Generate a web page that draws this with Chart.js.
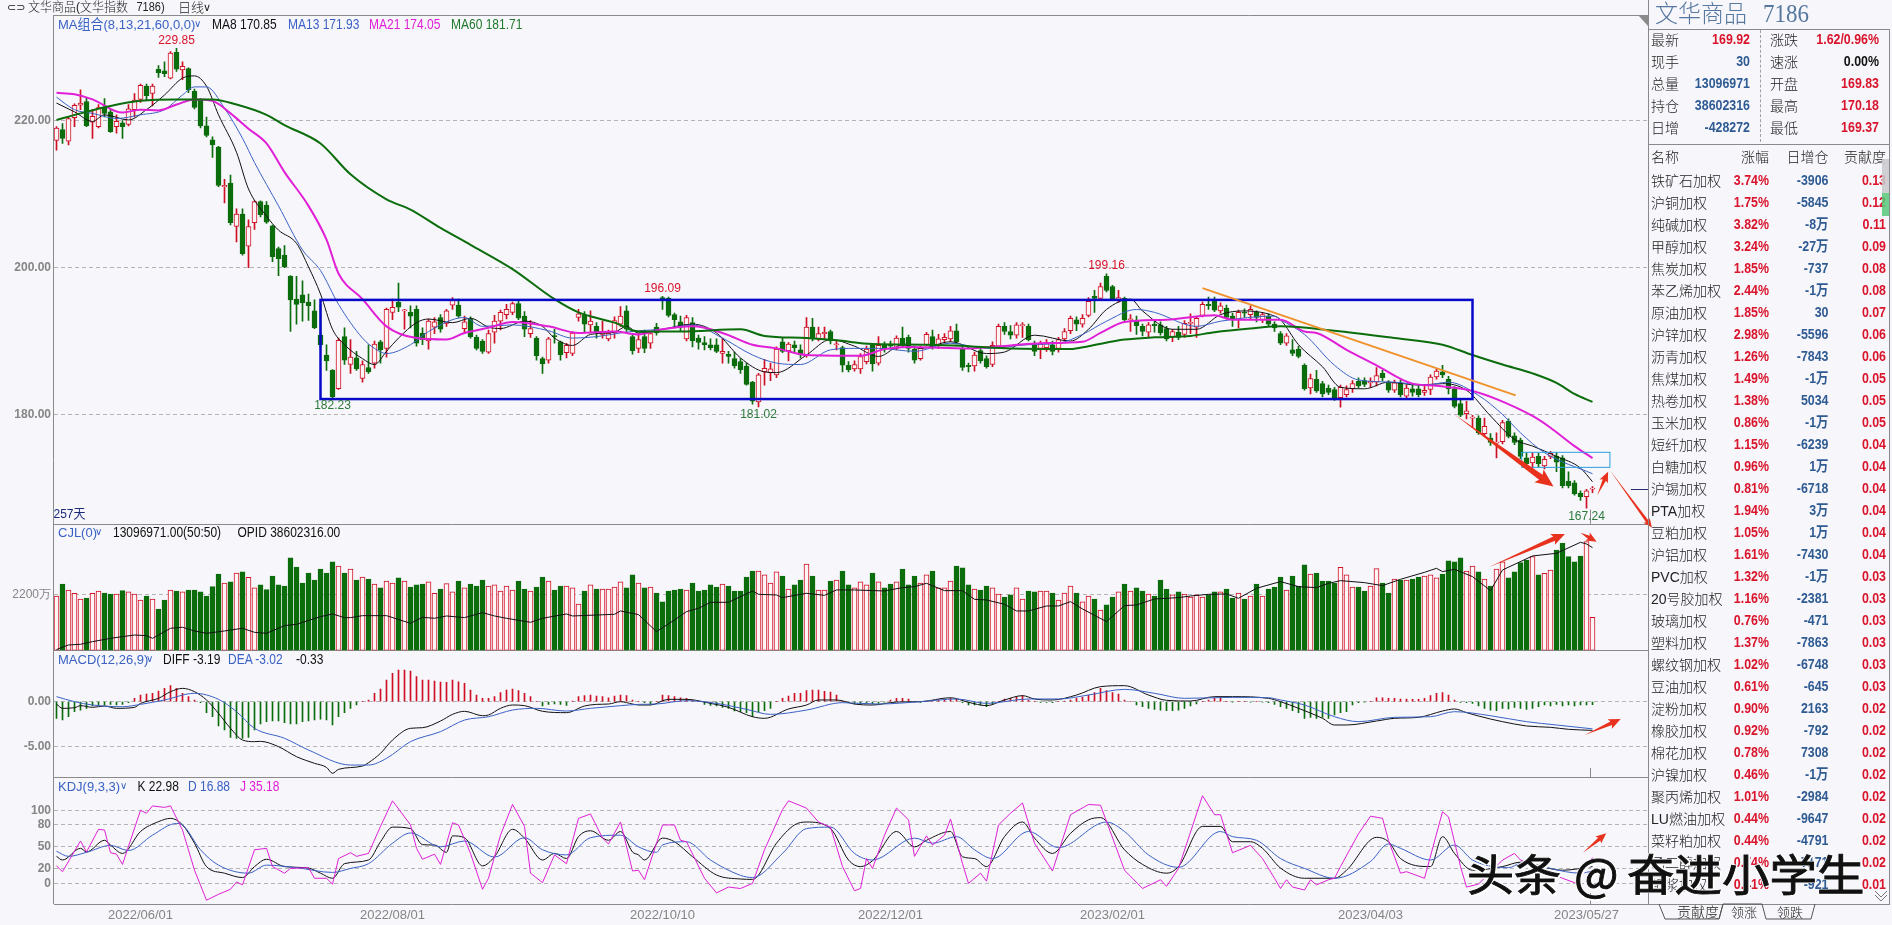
<!DOCTYPE html>
<html>
<head>
<meta charset="utf-8">
<title>文华商品</title>
<script src="https://cdn.jsdelivr.net/npm/chart.js@4/dist/chart.umd.min.js"></script>
<style>
html,body{margin:0;padding:0;background:#f6f6fb;overflow:hidden;}
#wrap{position:relative;width:1892px;height:925px;overflow:hidden;font-family:"Liberation Sans","Noto Sans CJK SC",sans-serif;}
canvas{position:absolute;left:0;top:0;}
.t{position:absolute;white-space:pre;line-height:1;}
.line{position:absolute;background:#8a8a8a;}
</style>
</head>
<body>
<div id="wrap"><canvas id="c" width="1892" height="925"></canvas><div id="overlay"></div></div>
<script>
const opens=[
217.3,218.8,217.2,220.4,222.1,222.6,219.8,219.2,221.7,221.2,
219.2,219.7,219.5,221.5,222.9,224.7,223.7,227,226.8,225.8,
229.3,226.9,227.1,224,222.9,219.3,217.4,216.4,211,211.5,
205.6,207.3,202.9,206.1,209,208.5,205.7,202.6,201.7,198.8,
195.7,196.3,195.3,194.1,190.8,188.1,186,183.5,190.6,186.8,
187.7,184.9,186.4,187,189.9,189,193.9,195.3,194.1,193.9,
194.3,191.1,190,191.9,193.2,192.4,194.9,194.9,191.7,193,
190.5,190,188.5,191.2,192.7,193.6,193.9,195.1,193.4,191,
190.4,187.6,187.4,190.7,189.9,188.4,188.3,193.2,193.5,192.2,
192,190.9,190.3,191.1,192.3,194.1,190.6,189,190.6,189.7,
191.9,195.9,195.8,193.6,192.6,190.3,192.5,190.4,189.8,189.5,
189.5,188.3,188.2,187.6,187.2,186.6,184.4,181.7,185.8,185.7,
185.4,189.9,188.7,189.5,188.8,188,191.9,190.3,191,191.3,
189.5,189.1,186.7,186.2,186.2,187.2,189.4,187,189.4,189.6,
189,190.4,190.5,188.9,187.6,189.5,190.6,189.5,190.2,190.3,
191.4,189,186.7,186.6,188.7,187.6,186.8,189.3,192,191.3,
190.8,192.1,192,189.4,189,189.1,189.5,189,190.3,191.4,
192.9,192.3,193.5,196.1,195.8,198.8,197.4,195.6,195.8,192.9,
192.7,192,191.2,192.3,192.2,191.7,190.6,191.2,190.9,192.4,
191.9,193.5,195,195.4,194.1,194.5,193.4,192.9,193.9,193.6,
193.9,192.9,193.4,192.3,191,189.7,188.8,188.9,186.7,183.6,
184.8,184.2,183.6,183.4,182.3,182.7,183.5,184.5,184.6,184.3,
184.4,185.6,184.3,183.3,184.3,182.5,183.5,183.5,183,183.4,
185.1,185.8,184.8,183.5,181.5,180.1,179.5,179.5,177.4,176.8,
176.1,176.3,179.1,177.1,176.5,174.1,173.4,174.3,173,174.3,
174.3,174.1,170.9,170.7,169.3,168.8,169.83];
const closes=[
219,217.6,220.3,222.1,222.4,219.3,220.6,221.8,221,218.5,
219.9,219.2,221.6,222.8,224.8,223.4,224.7,226.5,226.4,229.2,
227,227.4,224.2,221.8,219.3,218,216.7,211.2,211.2,206.1,
207.3,201.9,205.6,209,207.2,206.2,201.5,201.2,200.1,195.6,
195,195.2,194.8,191.8,189.5,187.3,182.4,190.1,187.4,187.8,
186.2,186.8,185.8,189.6,188.8,194.3,194.6,194.6,194.2,193.4,
189.7,190.2,192.7,192.6,191.6,194.1,195.6,193.4,192.6,190.6,
189,188.6,191,192.7,193.9,194.3,195.1,193.1,191.6,191.7,
188,186.9,190.3,190.6,188.1,189.4,191.1,193.7,192.3,192.7,
191.1,191.3,191.1,192.8,193.4,191.6,188.7,190.2,189,191,
191.1,195.5,193.5,192.9,191.9,193.2,190,189.8,189.5,189.1,
188.6,188.6,187.9,186.6,186.1,184.1,181.8,185.4,186.3,186.2,
188.9,188.6,189.6,189.1,188.1,191.9,190.3,191,191.2,190,
189.6,186.7,186.1,186.8,187.9,188.9,186.9,189.4,188.9,189.3,
190.4,189.4,189,187.4,189,190.9,189.3,190.3,190.5,191.4,
189.9,186.4,186.5,188.1,187.3,186.5,189.4,192,191.3,190.8,
192.2,192.2,190.2,188.6,189.6,189.8,188.6,190.2,191.3,193.1,
192.3,193.1,195.4,195.8,197.4,196.9,195.7,195.9,192.9,193,
192.1,191.3,192.2,192.1,191.1,190.3,191.3,190.5,192.4,192.5,
193.1,195,194.8,194.2,194.8,193.2,192.9,193.9,193.8,194.3,
193.2,193.6,192.3,191.8,189.7,190.7,188.3,187.9,183.5,184.9,
183.2,182.8,183,182.1,183.7,183.4,184.2,183.9,184.1,184.5,
185.3,185,183.3,184.3,182.7,183.6,183,182.7,183.3,185.1,
185.9,185.4,183.5,181.1,179.9,180.5,179.6,177.5,178.4,176.2,
176.2,178.9,177,176.2,174.3,173.3,174.2,173.3,173.9,174.7,
173.5,170.3,170.3,169.2,168.8,169.6,169.92];
const highs=[
219.2,219.6,220.5,222.3,224.2,223.1,221.5,222.2,223,221.5,
220.8,220,222.2,223.7,225,225,225,227.5,228,229.4,
229.85,228,227.2,224.3,223,220.5,217.8,216.5,212,212.6,
208,208,206.5,209.1,209.1,209,205.8,202.8,203,198.9,
198.8,198.2,196.4,195.6,195,189.5,186.1,190.4,191.8,190.2,
188.6,187.3,189.5,190,190.1,194.5,195.7,197.9,194.3,194.8,
194.8,191.8,193,193.2,193.6,194.3,195.9,195.7,193.4,193.3,
190.8,190.2,191.5,193.5,194.2,195,195.3,195.6,194,192.8,
190.6,187.8,190.5,191.6,190,189.7,191.3,194.3,194,194.1,
192.5,192.7,191.5,193.3,194.7,194.8,191,191,191.5,191.2,
192.4,196.09,196,193.8,193.4,193.5,193.2,190.8,190.6,190.3,
190.3,190.4,188.6,188.5,187.6,187,184.5,185.6,187.5,187,
189.2,190.4,189.8,190,189.5,193.2,193.1,191.9,191.9,191.5,
190,189.3,187.2,187.3,188.3,189.3,189.6,190.6,189.9,190,
190.7,191.9,190.8,189.3,189.3,191.2,191.5,190.9,191,192,
192.3,189.5,187,188.5,189,188,189.9,192.3,192.5,192.1,
192.5,192.5,192.3,190,190,190.2,190,190.5,191.7,193.4,
193.3,193.6,195.9,196.9,197.9,199.16,197.6,196.9,196,193.6,
193.4,192.3,192.5,192.8,192.6,192,191.6,192,192.8,193.7,
193.3,195.3,196,196,195.2,194.9,193.8,194.2,194.4,194.8,
194.1,193.9,193.7,192.6,191.3,191,190.2,189.3,186.9,185.5,
186,184.5,184,183.7,184,183.9,184.6,185,185,185,
186.4,186,184.6,184.7,184.7,184,184,183.9,184,185.4,
186.2,186.7,185.2,183.8,182,181.8,179.9,179.8,179.5,177.4,
177.5,179.2,179.4,177.5,176.8,174.8,174.8,174.7,174.3,175,
174.8,174.4,172.2,171,169.6,169.8,170.18];
const lows=[
216,216.9,216.7,219.2,221.5,219.2,217.6,219,220.5,218.4,
218.3,217.6,219.3,220.5,222.5,222.8,222,225.9,226,225.7,
226.7,225.6,223.8,221.6,219,217.8,215,211,208.8,205.8,
203.5,201.7,200,205.2,206.9,206,200.8,198.9,200,191.3,
192.3,192.7,192.8,191.7,189,186,182.23,183.4,186.8,185.6,
186,184.4,185.6,186.3,187,187.8,192.9,194,191.6,191.8,
189.3,189.5,188.9,191,191.2,192,194.3,193.2,191,190.4,
188.8,188.3,188.3,189.7,191.5,193,193.6,192.9,190.6,190.5,
187.4,185.6,187,189.7,187.4,187.7,188,192.7,191.2,191.1,
190.4,190.4,190,190.4,192,191.3,188.2,188.4,188.4,189,
190.8,194.3,193.3,191.8,191.4,190,189.2,188.9,188.8,188.8,
188.4,187,187,186.3,185.6,184,181.4,181.02,184,184.6,
185,188.4,187.3,188.5,187.7,187.8,190,190,190.2,189.6,
188.8,185.8,185.8,185.9,185.6,186.9,185.9,186.7,188.5,189,
188.8,189.2,188.5,187,187.4,189.3,188.9,189,189.7,189.9,
189.6,186,185.8,185.9,187,186.3,186.5,189,190.9,190.3,
190.4,190.5,190,188,187.6,188.6,188.1,188.5,190,191,
191.4,191.9,193.3,193.9,195.6,196.7,195.5,195.3,192.7,191.3,
190.9,190.7,190.6,191.2,190.8,190,189.9,190.2,190.5,191,
190.5,193.3,194.3,194,193.8,193,192,191.8,193.2,193,
192.6,192.5,192,191.3,189.5,189.4,188,187.7,183.3,182.8,
183,182.4,182.7,181.9,181,182.4,183,183.6,183.8,183.7,
183.9,184.6,183,183,182.4,182.2,182.5,182.4,182.6,182.7,
184.8,185,182.8,180.9,179.7,179.4,178.2,177.3,177,175.8,
174.1,176,176.8,175.9,174,172.9,172.7,172.9,172.6,174,
172.2,170,170,169,168.3,167.24,169.37];
const volumes=[
2135,2607,2371,2240,2017,2057,2240,2332,2253,2214,
2214,2345,2293,2214,1978,2135,2017,1624,1978,2371,
2332,2293,2371,2371,2293,2135,2502,3000,2646,2686,
3039,3079,2869,2450,2568,2384,2921,2568,2528,3629,
3275,2646,3039,2764,3196,3039,3472,3314,3039,3196,
2764,2882,2803,2607,2450,2725,2646,2843,2725,2489,
2568,2607,2686,2240,2410,2620,2293,2725,2450,2607,
2528,2764,2528,2568,2332,2528,2371,2725,2410,2332,
2489,2882,2725,2371,2528,2528,2450,1821,2332,2568,
2410,2410,2410,2489,2686,2450,2961,2646,2450,2489,
2253,1900,2332,2371,2410,2371,2646,2332,2371,2568,
2489,2607,2528,2332,2332,2882,3118,3118,2961,2646,
3079,2921,2410,2568,2764,3393,2921,2371,2371,2725,
2764,3118,2568,2450,2686,2568,3039,2686,2450,2607,
2686,3196,2568,2921,2646,2961,3118,2450,2450,2725,
3314,3236,2568,2410,2371,2528,2450,2214,2096,2175,
2450,2017,2332,2293,2332,2332,2253,1978,2253,2528,
2253,1900,2135,2017,1585,1782,2096,2293,2607,2332,
2450,2332,2214,2135,2764,2410,2175,2293,2214,2096,
2175,2096,2175,2293,2293,2410,2057,2253,2017,2135,
2607,2135,2410,2489,2882,2371,2921,2528,3354,3000,
3039,2725,2725,2646,3262,2961,2489,2489,2332,2528,
3210,2646,2253,2803,2764,2764,2803,2882,2921,2961,
2843,3000,3511,3472,3629,3118,3314,3079,2803,2528,
3196,3472,2843,3079,3445,3550,3681,2961,3026,3157,
3943,4205,3681,3472,3707,4271,1297];
const macdHist=[
-1.85,-2.04,-1.67,-1.11,-.93,-.74,-.48,-.37,-.37,-.3,
-.37,-.3,-.11,.37,.74,.85,.93,1.19,1.48,1.78,
1.48,.93,.56,.19,-.11,-1.22,-1.67,-2.7,-3.15,-3.96,
-4.07,-4.07,-3.96,-3.15,-2.48,-2.22,-2.15,-2.15,-2.33,-2.48,
-2.48,-2.22,-2.15,-2.04,-1.93,-2.04,-2.59,-1.67,-1.22,-.74,
-.37,0,.19,.93,1.41,2.41,3.15,3.52,3.52,3.41,
2.78,2.41,2.41,2.3,2.19,2.15,2.41,2.22,2.04,1.3,
.74,.37,.37,.56,1,1.3,1.41,1.22,.93,.56,
0,-.48,-.3,-.26,-.3,-.41,.04,.56,.67,.74,
.63,.56,.44,.63,.74,.67,.19,0,-.11,-.3,
0,.74,.67,.56,.44,.37,.19,0,-.3,-.41,
-.48,-.63,-.74,-1.04,-1.11,-1.22,-1.67,-1.11,-1,-.74,
0,.37,.63,.93,.93,1.22,1.3,1.3,1.15,1.07,
.74,0,-.11,-.26,-.19,-.11,-.26,-.19,-.04,.19,
.37,.37,.3,0,-.07,0,.07,.19,.26,.37,
.26,-.11,-.37,-.37,-.37,-.56,-.26,0,.3,.37,
.48,.67,.19,0,-.07,-.07,-.11,0,.07,.19,
.37,.48,.74,1,1.48,1.22,1,.85,.19,0,
-.37,-.56,-.74,-.85,-.93,-1,-1,-.93,-.74,-.48,
-.26,0,.19,.37,.48,0,-.04,0,0,-.04,
0,-.04,-.11,-.3,-.56,-.74,-1,-1.22,-1.85,-1.74,
-1.85,-1.74,-1.85,-1.48,-1.22,-1.11,-.37,-.11,-.04,0,
.44,.44,.37,.37,.3,.3,.26,.26,.37,.67,
.93,1,.74,.19,-.07,-.11,-.19,-.48,-.74,-.93,
-1,-.74,-.81,-.63,-.74,-.85,-.74,-.56,-.37,-.48,
-.3,-.48,-.37,-.48,-.37,-.37,-.33];

// moving averages and indicator lines, [day, value]
const ma8=[[0,222.4],[3,221.2],[6,219.9],[8,220.8],[12,220.1],[15,221.5],[18,223.5],[21,225.8],[23,226.1],[25,224.7],[27,220.8],[30,215.7],[32,210.7],[35,207],[37,205.1],[40,203.3],[42,200.1],[44,196.4],[46,191.6],[48,189.5],[51,187.6],[53,186.8],[55,188.6],[57,190.4],[60,192.5],[62,193],[66,192.5],[69,193.1],[72,191.9],[74,191.7],[78,192.7],[81,192],[83,190.4],[86,189.4],[89,190.9],[93,191.2],[95,192],[97,191.1],[101,191.6],[106,192.3],[110,191.1],[114,187.7],[118,185.8],[120,185.7],[125,188.1],[129,190.2],[133,189.3],[137,187.9],[141,189.5],[144,189],[149,189.9],[155,188.3],[158,188.5],[163,190.8],[169,190],[172,191.6],[175,194.3],[179,195.7],[181,194.1],[186,191.6],[190,191.6],[194,193.6],[198,194.1],[203,193.4],[204,192.9],[207,189.5],[211,186.5],[214,183.7],[218,183.5],[222,184.4],[227,184],[231,184.2],[235,183.3],[239,179.8],[243,176.6],[246,175.7],[250,174.3],[254,172.7],[256,170.85]];
const ma13=[[0,223.2],[3,221.5],[6,221],[10,220.3],[14,220.8],[18,221.5],[21,223.5],[23,224.6],[25,224.6],[28,221.7],[31,217.6],[33,214.3],[37,208.4],[41,202.4],[44,199.6],[47,195],[51,190.4],[53,189],[55,188.3],[59,189.5],[62,191.3],[68,193.2],[71,192],[76,192.2],[82,191.4],[86,190.4],[90,190.6],[94,191.1],[97,191.4],[101,191.6],[106,192.2],[111,190.4],[116,188.1],[120,187],[124,186.8],[129,188.8],[133,189],[137,189],[143,188.6],[149,189.7],[155,189],[162,189.5],[167,189.7],[171,190.9],[175,192.7],[180,194.3],[183,193.9],[190,192],[194,192.7],[203,193.4],[204,192.9],[208,190.9],[213,186.7],[217,184.7],[223,184.4],[228,184],[232,184.4],[237,182.6],[241,180],[244,177.5],[248,174.8],[256,171.93]];
const ma21=[[0,223.8],[3,223.6],[6,222.9],[11,221.1],[14,221.5],[17,221.4],[20,222.2],[23,222.9],[26,222.7],[29,221],[32,218.9],[35,216.9],[38,213],[42,208.4],[45,203.8],[47,199.2],[51,195.7],[55,192],[60,190.4],[65,190.2],[68,191.1],[72,191.8],[76,192.6],[82,192],[87,191.1],[93,191.3],[97,190.9],[101,191.6],[106,192],[111,191.1],[116,189.5],[120,189],[125,188.1],[134,188],[138,188.9],[142,189.2],[152,189],[159,189.4],[164,189.7],[171,189.9],[174,191.1],[178,192.6],[185,192.9],[193,193.5],[196,192.9],[204,192.9],[208,191.3],[210,191.1],[215,188.8],[220,186.7],[226,184.2],[230,183.9],[236,183.2],[240,182.1],[246,179.8],[249,178.2],[253,175.7],[256,174.05]];
const ma60=[[0,220.1],[4,221],[9,222],[14,222.7],[20,222.9],[26,222.9],[30,222.2],[35,220.8],[38,219.4],[44,216.9],[49,212.7],[55,209.3],[59,207.9],[64,205.4],[69,203.1],[76,199.8],[83,195.7],[87,193.9],[93,192.5],[97,191.3],[104,191.3],[114,191.6],[118,190.7],[125,190.4],[130,190.1],[136,189.6],[145,189.5],[152,189.3],[159,189],[169,188.9],[172,189.3],[178,190.2],[183,190.5],[189,190.7],[193,191.2],[199,191.7],[204,192],[213,191.4],[223,190.4],[231,189.5],[236,188.1],[241,186.8],[246,185.6],[250,184.3],[253,182.8],[256,181.71]];
const opid=[[0,30],[2,210],[4,236],[6,340],[9,470],[11,537],[13,600],[15,577],[16,470],[19,865],[21,905],[23,760],[25,668],[28,760],[31,865],[33,707],[35,668],[38,970],[40,1022],[44,1323],[46,1428],[48,1284],[49,1284],[51,1362],[55,1362],[59,1061],[61,1297],[63,1258],[65,1349],[68,1284],[71,1480],[73,1349],[75,1258],[79,1100],[81,1258],[85,1428],[86,1349],[93,1415],[94,1546],[97,1402],[100,734],[103,1192],[105,1520],[107,1650],[109,1886],[112,1886],[116,2332],[117,2200],[120,2175],[121,2070],[125,2240],[128,2160],[130,2371],[133,2371],[138,2332],[141,2463],[143,2502],[145,2633],[148,2345],[151,2345],[153,2004],[155,1978],[158,1808],[160,1546],[162,1546],[165,1742],[167,1742],[169,1913],[171,1624],[175,1127],[178,1755],[180,1782],[183,2017],[187,2070],[189,2135],[192,2200],[195,2214],[197,2043],[200,2437],[204,2700],[207,2502],[210,2463],[212,2633],[214,2738],[218,2659],[221,2541],[224,2790],[228,3065],[230,3222],[231,3092],[233,3183],[236,2895],[239,2345],[241,3157],[246,3707],[250,3812],[254,4244],[255,4179],[256,4035]];
const diff=[[0,-.26],[1,-.74],[3,-.67],[4,-.44],[6,-.63],[8,-.48],[10,-.74],[13,-.63],[14,-.19],[17,.37],[19,1.11],[21,1.48],[23,1.11],[25,.19],[27,-1.3],[29,-2.96],[31,-4.26],[33,-4.44],[34,-4.41],[37,-5],[40,-6.11],[43,-6.85],[45,-7.3],[46,-7.96],[47,-7.52],[51,-7.15],[52,-6.78],[54,-5.74],[56,-4.26],[59,-2.96],[61,-2.89],[64,-2.15],[66,-1.41],[68,-1.07],[71,-1.56],[72,-1.48],[74,-.74],[76,-.37],[78,-.44],[81,-1.07],[85,-1.22],[88,-.48],[90,-.3],[92,-.26],[94,0],[96,-.26],[97,-.37],[99,-.37],[102,.26],[105,.26],[109,-.19],[112,-.63],[116,-1.67],[118,-1.85],[122,-.81],[125,-.37],[127,.19],[130,.19],[133,-.26],[136,-.37],[140,-.04],[144,0],[149,.44],[152,-.07],[155,-.44],[158,.19],[161,.67],[163,.3],[166,.19],[170,.74],[174,1.67],[178,1.78],[182,.74],[185,.15],[189,.07],[193,.56],[196,.56],[202,.37],[204,0],[207,-.74],[211,-1.85],[213,-2.59],[215,-2.59],[220,-2.15],[223,-1.85],[227,-1.74],[231,-1.04],[233,-.81],[235,-1.22],[239,-1.93],[241,-2.22],[245,-2.7],[249,-2.85],[252,-3.07],[256,-3.19]];
const dea=[[0,.56],[3,0],[6,-.37],[11,-.56],[14,-.3],[18,.19],[23,.93],[27,.26],[30,-1.11],[33,-2.96],[38,-4.07],[42,-5.37],[49,-7.04],[52,-7.04],[55,-6.3],[59,-4.44],[64,-3.33],[68,-2.04],[72,-1.67],[76,-.93],[80,-.74],[85,-1.04],[89,-.74],[94,-.44],[97,-.3],[100,-.26],[105,.11],[110,-.19],[115,-.85],[119,-1.41],[125,-.93],[131,-.11],[137,-.26],[144,0],[150,.3],[155,-.19],[162,.3],[167,.3],[172,.74],[178,1.37],[183,.93],[188,.37],[196,.48],[202,.44],[204,.19],[208,-.37],[213,-1.67],[217,-2.22],[223,-1.74],[229,-1.67],[233,-1.11],[239,-1.56],[245,-2.22],[250,-2.59],[256,-3.02]];
const kdjK=[[0,37],[1,32],[4,48],[5,43],[8,59],[9,52.5],[11,41],[14,71],[17,84.5],[19,89],[21,80],[23,55],[25,23],[28,14],[31,8],[33,23],[35,33],[38,23],[42,21],[44,14],[46,7],[48,27],[52,32],[54,57],[56,77],[59,75],[61,53],[63,52.5],[65,42.5],[66,65],[68,62.5],[71,24],[73,36.5],[76,74],[78,62],[81,32],[83,41],[85,34],[87,64],[89,72],[92,59],[94,71],[96,43],[97,39],[98,32],[101,62],[103,57],[106,36.5],[110,11.5],[114,6],[116,5.5],[120,55],[123,80],[125,84],[129,75],[132,32],[134,23],[136,31],[140,71],[143,50],[145,59],[149,71],[151,36.5],[153,34],[155,23],[158,64],[161,84],[163,62],[166,41],[169,68.5],[172,87],[174,90],[178,46],[181,26],[185,14],[187,23],[191,78],[194,78],[196,57],[199,57],[201,48],[204,21],[208,7],[213,7],[215,18],[220,63],[222,57],[224,34],[229,23],[231,64],[233,41],[236,18],[241,23],[244,29],[251,18],[256,22.98]];
const kdjD=[[0,44],[2,37],[5,42.5],[9,52],[12,45],[16,66],[20,82],[21,80],[24,46],[27,25],[32,14],[35,25],[40,21.5],[46,15],[49,20.5],[52,27],[56,55],[59,69],[64,50],[68,58],[73,36],[78,62.5],[81,46],[85,39],[89,62.5],[94,66],[97,50],[100,42.5],[101,52.5],[105,57],[109,32],[114,11],[116,8],[121,41],[125,75],[129,77],[133,41],[136,32],[143,62],[146,55],[150,64],[153,46],[156,34],[162,71],[167,49],[175,84],[178,71],[182,39],[187,22],[194,71],[196,64],[200,59],[204,34],[208,20.5],[213,7],[219,30],[222,54],[224,48],[229,32],[233,52.5],[236,32],[242,21.5],[244,27],[254,14],[256,16.88]];
const kdjJ=[[0,24],[1,16],[4,58],[5,43],[7,74],[8,73],[9,42],[10,40],[11,26],[14,100],[15,96],[16,106],[18,104],[19,106],[21,73],[23,18],[25,-23],[27,-15],[29,-8],[30,2],[31,-2],[33,46],[35,48],[36,23],[38,14],[39,20.5],[42,21.5],[43,7],[45,7],[46,-1],[47,34],[49,42],[50,37],[52,41],[54,78],[56,113],[59,80],[60,48],[61,33],[63,40],[64,26],[66,83],[67,80],[69,41],[71,-8],[72,7],[74,66],[76,108],[78,78],[79,14],[81,1],[83,39],[85,27],[87,89],[89,95],[91,62],[92,54],[94,84],[96,17],[97,18],[98,5],[101,80],[103,80],[104,59],[105,57],[108,7],[110,-13],[112,-5],[114,-7],[116,0],[118,46],[121,101],[122,113],[125,103],[127,84],[129,77],[131,23],[133,-10],[134,-7],[135,34],[136,20.5],[138,66],[140,103],[142,87],[143,37],[145,65],[146,52.5],[148,66],[149,88],[151,27],[152,0],[154,14],[155,3],[157,80],[159,96],[161,110],[163,55],[166,17],[169,94],[172,108],[174,107],[178,18],[181,-7],[184,5],[185,-4],[187,20.5],[191,120],[193,94],[194,94],[196,42],[199,52],[201,34],[203,7],[204,-7],[205,5],[206,-5],[208,-9],[209,5],[210,-2],[212,5],[213,7],[214,23],[217,68],[219,92],[221,89],[222,59],[224,14],[225,16],[228,7],[231,98],[232,91],[234,23],[235,-5],[237,-1],[241,32],[243,41],[244,32],[251,7],[253,1],[254,7],[256,35.18]];

// axis ticks
const priceTicks=[180,200,220];
const volumeTicks=[2200];
const macdTicks=[-5,0];
const kdjTicks=[0,20,50,80,100];
const dateDays=[14,56,101,139,176,219,255];
const dateLabels=['2022/06/01','2022/08/01','2022/10/10','2022/12/01','2023/02/01','2023/04/03','2023/05/27'];

// high/low notes on the candles
const noteDays=[20,46,101,117,175,255];
const notePrices=[229.85,182.23,196.09,181.02,199.16,167.24];
const noteUp=[true,false,true,false,true,false];

// hand drawn marks from the screenshot, in chart units
const boxes=[
  {from:[44,195.6],to:[236,182.1],color:'#0808c8',width:2.5},
  {from:[244.2,174.85],to:[258.9,172.8],color:'#2a9fe0',width:1}
];
const trendLine={from:[191,197.2],to:[243.2,182.6]};
const arrows=[
  {axis:'yMain',from:[232.9,180.05],to:[249.5,170.2],w:6},
  {axis:'yMain',from:[256.8,169],to:[258.6,172.2],w:3.5},
  {axis:'yMain',from:[258.9,172.4],to:[265.9,164.6],w:3},
  {axis:'yVol',from:[238.7,3262],to:[251.4,4572],w:4.5},
  {axis:'yVol',from:[254,4624],to:[256.7,4270],w:3.5},
  {axis:'yMacd',from:[254.7,-3.7],to:[260.7,-1.93],w:4},
  {axis:'yKdj',from:[254.4,42],to:[258.3,68.5],w:3.5}
];

// quote panel
const statLeftNames=['最新','现手','总量','持仓','日增'];
const statLeftValues=['169.92','30','13096971','38602316','-428272'];
const statLeftColors=['#d9142b','#2f5b93','#2f5b93','#2f5b93','#2f5b93'];
const statRightNames=['涨跌','速涨','开盘','最高','最低'];
const statRightValues=['1.62/0.96%','0.00%','169.83','170.18','169.37'];
const statRightColors=['#d9142b','#111','#d9142b','#d9142b','#d9142b'];

const rowNames=['铁矿石加权','沪铜加权','纯碱加权','甲醇加权','焦炭加权','苯乙烯加权','原油加权','沪锌加权','沥青加权','焦煤加权','热卷加权','玉米加权','短纤加权','白糖加权','沪锡加权','PTA加权','豆粕加权','沪铝加权','PVC加权','20号胶加权','玻璃加权','塑料加权','螺纹钢加权','豆油加权','淀粉加权','橡胶加权','棉花加权','沪镍加权','聚丙烯加权','LU燃油加权','菜籽粕加权','乙二醇加权','纸浆加权'];
const rowChanges=['3.74%','1.75%','3.82%','3.24%','1.85%','2.44%','1.85%','2.98%','1.26%','1.49%','1.38%','0.86%','1.15%','0.96%','0.81%','1.94%','1.05%','1.61%','1.32%','1.16%','0.76%','1.37%','1.02%','0.61%','0.90%','0.92%','0.78%','0.46%','1.01%','0.44%','0.44%','0.74%','0.41%'];
const rowOpenInt=['-3906','-5845','-8万','-27万','-737','-1万','30','-5596','-7843','-1万','5034','-1万','-6239','1万','-6718','3万','1万','-7430','-1万','-2381','-471','-7863','-6748','-645','2163','-792','7308','-1万','-2984','-9647','-4791','-7171','-921'];
const rowContrib=['0.13','0.12','0.11','0.09','0.08','0.08','0.07','0.06','0.06','0.05','0.05','0.05','0.04','0.04','0.04','0.04','0.04','0.04','0.03','0.03','0.03','0.03','0.03','0.03','0.02','0.02','0.02','0.02','0.02','0.02','0.02','0.02','0.01'];

const RED='#cf0f24', GREEN='#0b6d0b', HOLLOW='#fff5f6', BLUE='#3a62c4', MAGENTA='#e01fd6';
const days=opens.map((_,i)=>i);
const isUp=i=>closes[i]>=opens[i];
const pts=a=>a.map(([x,y])=>({x,y}));
const upColors=days.map(i=>isUp(i)?RED:GREEN);
const fills=days.map(i=>isUp(i)?HOLLOW:GREEN);

const lineSet=(data,axis,color,width,smooth)=>({
  type:'line',data:pts(data),yAxisID:axis,borderColor:color,borderWidth:width,pointRadius:0,
  cubicInterpolationMode:smooth?'monotone':'default',tension:0,order:1,fill:false
});

const datasets=[
  {type:'bar',data:days.map(i=>({x:i,y:[lows[i],highs[i]]})),yAxisID:'yMain',backgroundColor:upColors,barThickness:1,grouped:false,order:6},
  {type:'bar',data:days.map(i=>({x:i,y:[opens[i],closes[i]]})),yAxisID:'yMain',backgroundColor:fills,borderColor:upColors,borderWidth:1,borderSkipped:false,barThickness:5,minBarLength:1,grouped:false,order:5},
  lineSet(ma60,'yMain',GREEN,2,true),
  lineSet(ma21,'yMain',MAGENTA,2,true),
  lineSet(ma13,'yMain',BLUE,1,true),
  lineSet(ma8,'yMain','#111',1,true),
  {type:'bar',data:days.map(i=>({x:i,y:volumes[i]})),yAxisID:'yVol',backgroundColor:fills,borderColor:upColors,borderWidth:1,borderSkipped:false,barThickness:5,grouped:false,order:5},
  lineSet(opid,'yVol','#111',1,false),
  {type:'bar',data:days.map(i=>({x:i,y:[0,macdHist[i]]})),yAxisID:'yMacd',backgroundColor:macdHist.map(v=>v>=0?RED:GREEN),barThickness:1,grouped:false,order:5},
  lineSet(dea,'yMacd',BLUE,1,true),
  lineSet(diff,'yMacd','#111',1,true),
  lineSet(kdjJ,'yKdj',MAGENTA,1,false),
  lineSet(kdjD,'yKdj',BLUE,1,true),
  lineSet(kdjK,'yKdj','#111',1,true)
];

const yAxis=(min,max,weight,ticks,fmt,bold,order)=>({
  type:'linear',position:'left',stack:'panes',stackWeight:weight,weight:order,min,max,beginAtZero:false,
  afterFit:s=>{s.width=54},
  afterBuildTicks:s=>{s.ticks=ticks.map(value=>({value}))},
  grid:{color:'#b4b4b8',drawTicks:false},
  border:{display:false,dash:[4,3]},
  ticks:{padding:3,color:'#858585',font:{family:'Liberation Sans',size:12,weight:bold?'bold':'normal'},callback:fmt,autoSkip:false}
});

function drawArrow(ctx,x0,y0,x1,y1,w){
  const len=Math.hypot(x1-x0,y1-y0),ux=(x1-x0)/len,uy=(y1-y0)/len,nx=-uy,ny=ux;
  const hl=Math.min(w*2.6,len*.5),bx=x1-ux*hl,by=y1-uy*hl,cx=x1-ux*hl*1.15,cy=y1-uy*hl*1.15;
  ctx.fillStyle='#e8321e';
  ctx.beginPath();
  ctx.moveTo(x0,y0);
  ctx.lineTo(bx+nx*w*.5,by+ny*w*.5);
  ctx.lineTo(cx+nx*w*1.3,cy+ny*w*1.3);
  ctx.lineTo(x1,y1);
  ctx.lineTo(cx-nx*w*1.3,cy-ny*w*1.3);
  ctx.lineTo(bx-nx*w*.5,by-ny*w*.5);
  ctx.closePath();
  ctx.fill();
}

const framePlugin={
  id:'frames',
  beforeDatasetsDraw(chart){
    const {ctx,chartArea:a,scales}=chart;
    ctx.save();
    ctx.strokeStyle='#8a8a8a';ctx.lineWidth=1;
    ctx.beginPath();
    [a.top,scales.yVol.top,scales.yMacd.top,scales.yKdj.top,a.bottom].forEach(y=>{
      ctx.moveTo(a.left,Math.round(y)+.5);ctx.lineTo(a.right,Math.round(y)+.5);
    });
    ctx.moveTo(a.left-.5,a.top);ctx.lineTo(a.left-.5,a.bottom);
    ctx.stroke();
    ctx.restore();
  },
  afterDraw(chart){
    const {ctx,scales}=chart;
    const px=v=>scales.x.getPixelForValue(v), py=(axis,v)=>scales[axis].getPixelForValue(v);
    ctx.save();
    boxes.forEach(b=>{
      ctx.strokeStyle=b.color;ctx.lineWidth=b.width;
      ctx.strokeRect(px(b.from[0]),py('yMain',b.from[1]),px(b.to[0])-px(b.from[0]),py('yMain',b.to[1])-py('yMain',b.from[1]));
    });
    ctx.strokeStyle='#f0922c';ctx.lineWidth=2;
    ctx.beginPath();
    ctx.moveTo(px(trendLine.from[0]),py('yMain',trendLine.from[1]));
    ctx.lineTo(px(trendLine.to[0]),py('yMain',trendLine.to[1]));
    ctx.stroke();
    arrows.forEach(a=>drawArrow(ctx,px(a.from[0]),py(a.axis,a.from[1]),px(a.to[0]),py(a.axis,a.to[1]),a.w));
    // last price marker at the right edge
    const last=closes[closes.length-1];
    ctx.strokeStyle='#27306e';ctx.lineWidth=1;
    ctx.beginPath();ctx.moveTo(px(262.4),Math.round(py('yMain',last))+.5);ctx.lineTo(chart.chartArea.right,Math.round(py('yMain',last))+.5);ctx.stroke();
    // cursor stubs under the last bars
    ctx.strokeStyle='#8a8a8a';
    ctx.beginPath();
    [['yMain',-14],['yMacd',-9],['yKdj',-11]].forEach(([axis,h])=>{
      const b=scales[axis].bottom,x=Math.round(px(255.5))+.5;
      ctx.moveTo(x,b);ctx.lineTo(x,b+h);
    });
    ctx.stroke();
    ctx.font='12px "Liberation Sans"';ctx.textAlign='center';ctx.textBaseline='middle';
    noteDays.forEach((d,i)=>{
      ctx.fillStyle=noteUp[i]?'#d9142b':'#2d7a3a';
      ctx.fillText(notePrices[i].toFixed(2),px(d),py('yMain',notePrices[i])+(noteUp[i]?-8:8));
    });
    ctx.restore();
  }
};

new Chart(document.getElementById('c'),{
  type:'bar',
  data:{datasets},
  options:{
    responsive:false,animation:false,devicePixelRatio:1,events:[],
    layout:{padding:{top:15,right:244,left:0,bottom:0}},
    plugins:{legend:{display:false},tooltip:{enabled:false}},
    scales:{
      x:{
        type:'linear',min:-.417,max:265.25,offset:false,
        afterFit:s=>{s.height=21},
        afterBuildTicks:s=>{s.ticks=dateDays.map(value=>({value}))},
        grid:{display:false,offset:false,drawTicks:false},border:{display:false},
        ticks:{autoSkip:false,maxRotation:0,padding:4,color:'#858585',font:{family:'Liberation Sans',size:13},callback:v=>dateLabels[dateDays.indexOf(v)]}
      },
      yMain:yAxis(165.13,234.39,508.7,priceTicks,v=>v.toFixed(2),true,4),
      yVol:yAxis(0,4975,126.6,volumeTicks,v=>v+'万',false,3),
      yMacd:yAxis(-8.37,5.71,126.7,macdTicks,v=>v.toFixed(2),true,2),
      yKdj:yAxis(-28.2,145.6,127,kdjTicks,v=>String(v),true,1)
    }
  },
  plugins:[framePlugin]
});

// text and panel overlay
const overlay=document.getElementById('overlay');
function txt(x,y,str,o={}){
  const d=document.createElement('div');
  d.className='t';d.textContent=str;
  d.style.top=y+'px';
  if(o.right)d.style.right=(1892-x)+'px';else d.style.left=x+'px';
  d.style.color=o.color||'#111';
  d.style.fontSize=(o.size||12)+'px';
  if(o.bold)d.style.fontWeight='bold';
  if(o.weight)d.style.fontWeight=o.weight;
  if(o.family)d.style.fontFamily=o.family;
  d.style.transform='translateY(-50%) scaleY('+(o.sy||1.15)+')';
  if(o.shadow)d.style.textShadow=o.shadow;
  if(o.stroke)d.style.webkitTextStroke=o.stroke;
  overlay.appendChild(d);
  return d;
}
function rule(x,y,w,h,bg){
  const d=document.createElement('div');
  d.className='line';
  d.style.cssText+='left:'+x+'px;top:'+y+'px;width:'+w+'px;height:'+h+'px;'+(bg?'background:'+bg+';':'');
  overlay.appendChild(d);
  return d;
}

// title strip
txt(7,7,'⊂⊃',{size:11,sy:1,family:'DejaVu Sans'});
txt(28,7,'文华商品(文华指数',{size:12,sy:1.05,color:'#222',weight:300});
txt(136.5,7,'7186)',{size:11,color:'#222'});
txt(178,7,'日线',{size:13,sy:1,color:'#222',weight:300});
txt(203,7,'∨',{size:11,sy:1,family:'DejaVu Sans',color:'#222'});

// indicator legends
txt(58,24,'MA组合(8,13,21,60,0,0)',{size:13,sy:1.05,color:BLUE});
txt(194,24,'∨',{size:10,sy:1,color:BLUE,family:'DejaVu Sans'});
txt(212,24,'MA8 170.85',{color:'#111'});
txt(288,24,'MA13 171.93',{color:BLUE});
txt(369,24,'MA21 174.05',{color:MAGENTA});
txt(451,24,'MA60 181.71',{color:'#1d7a2a'});
txt(53.5,514,'257天',{size:12,sy:1.05,color:'#1b2a7a'});
txt(58,532,'CJL(0)',{size:13,sy:1.05,color:BLUE});
txt(95,532,'∨',{size:10,sy:1,color:BLUE,family:'DejaVu Sans'});
txt(113,532,'13096971.00(50:50)');
txt(237.5,532,'OPID 38602316.00');
txt(58,659,'MACD(12,26,9)',{size:13,sy:1.05,color:BLUE});
txt(146,659,'∨',{size:10,sy:1,color:BLUE,family:'DejaVu Sans'});
txt(163,659,'DIFF -3.19');
txt(228,659,'DEA -3.02',{color:BLUE});
txt(296,659,'-0.33');
txt(58,786,'KDJ(9,3,3)',{size:13,sy:1.05,color:BLUE});
txt(120,786,'∨',{size:10,sy:1,color:BLUE,family:'DejaVu Sans'});
txt(137.5,786,'K 22.98');
txt(188,786,'D 16.88',{color:BLUE});
txt(240,786,'J 35.18',{color:MAGENTA});

// quote panel frame
rule(1648,0,1,904);
rule(1889,29,1,875);
rule(1648,29,242,1);
rule(1648,144,242,1);
rule(1648,904,242,1);
const corner=rule(1638,15,10,11,'#8a8a8a');corner.style.clipPath='polygon(0 0,100% 0,100% 100%)';
const dash=rule(1760,30,1,112,'transparent');dash.style.borderLeft='1px dashed #a0a0a0';

txt(1655,14,'文华商品',{size:23,sy:1.05,color:'#56789f',weight:300});
txt(1763,14,'7186',{size:23,sy:1.05,color:'#56789f',family:'Liberation Serif'});

const statRows=[40,62,84,106,128];
statLeftNames.forEach((n,i)=>{
  txt(1651,statRows[i],n,{size:14,sy:1,color:'#222',weight:300});
  txt(1750,statRows[i],statLeftValues[i],{right:true,bold:true,size:12.4,color:statLeftColors[i]});
  txt(1770,statRows[i],statRightNames[i],{size:14,sy:1,color:'#222',weight:300});
  txt(1879,statRows[i],statRightValues[i],{right:true,bold:true,size:12.4,color:statRightColors[i]});
});

txt(1651,157,'名称',{size:14,sy:1,color:'#222',weight:300});
txt(1769,157,'涨幅',{right:true,size:14,sy:1,color:'#222',weight:300});
txt(1828.5,157,'日增仓',{right:true,size:14,sy:1,color:'#222',weight:300});
txt(1886,157,'贡献度',{right:true,size:14,sy:1,color:'#222',weight:300});
rowNames.forEach((n,i)=>{
  const y=181+22*i;
  txt(1651,y,n,{size:14,sy:1,color:'#222',weight:300});
  txt(1769,y,rowChanges[i],{right:true,bold:true,size:12.4,color:'#d9142b'});
  txt(1828.5,y,rowOpenInt[i],{right:true,bold:true,size:12.4,color:'#2f5b93'});
  txt(1886,y,rowContrib[i],{right:true,bold:true,size:12.4,color:'#d9142b'});
});
const scroll=rule(1882,159,7,57,'linear-gradient(#c8c8cc 0 60%,#58c878 60%)');scroll.style.opacity='.85';

// bottom tabs
const tabSvg=document.createElementNS('http://www.w3.org/2000/svg','svg');
tabSvg.setAttribute('width','1892');tabSvg.setAttribute('height','925');
tabSvg.style.cssText='position:absolute;left:0;top:0;';
tabSvg.innerHTML='<polyline points="1659,904 1665,919 1719,919 1723,904" fill="none" stroke="#555"/>'
  +'<polyline points="1719,919 1723,904 1762,904 1766,919" fill="none" stroke="#555"/>'
  +'<polyline points="1766,919 1811,919 1815,904" fill="none" stroke="#555"/>'
  +'<polyline points="1875,891 1881,897 1887,891" fill="none" stroke="#777"/>'
  +'<polyline points="1875,895 1881,901 1887,895" fill="none" stroke="#777"/>';
overlay.appendChild(tabSvg);
txt(1677,912,'贡献度',{size:14,sy:1,color:'#222',weight:300});
txt(1731,912,'领涨',{size:13,sy:1,color:'#222',weight:300});
txt(1777,912,'领跌',{size:13,sy:1,color:'#222',weight:300});

// watermark
const wmShadow='2px 2px 0 #fff,-1px -1px 0 #fff,2px -1px 0 #fff,-1px 2px 0 #fff';
txt(1467,872,'头条',{size:47,sy:.92,stroke:'1px #111',shadow:wmShadow,family:'Noto Sans CJK SC'});
txt(1574,872,'@',{size:47,sy:.95,stroke:'1px #111',shadow:wmShadow,family:'Noto Sans CJK SC'});
txt(1627,872,'奋进小学生',{size:47.5,sy:.92,stroke:'1px #111',shadow:wmShadow,family:'Noto Sans CJK SC'});
</script>
</body>
</html>
